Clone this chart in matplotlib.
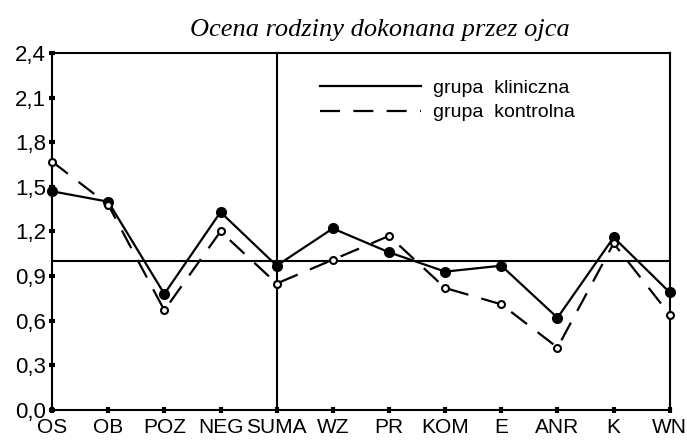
from matplotlib import pyplot as plt
import numpy as np

categories = ['OS', 'OB', 'POZ', 'NEG', 'SUMA', 'WZ', 'PR', 'KOM', 'E', 'ANR', 'K', 'WN']
klin = [1.47, 1.40, 0.78, 1.33, 0.97, 1.22, 1.06, 0.93, 0.97, 0.62, 1.16, 0.79]
kontr = [1.67, 1.38, 0.67, 1.20, 0.85, 1.01, 1.17, 0.82, 0.71, 0.42, 1.12, 0.64]
yticks = [0.0, 0.3, 0.6, 0.9, 1.2, 1.5, 1.8, 2.1, 2.4]
ylabels = ['0,0', '0,3', '0,6', '0,9', '1,2', '1,5', '1,8', '2,1', '2,4']

plt.rcParams['font.family'] = ['Liberation Sans', 'DejaVu Sans']

fig = plt.figure(figsize=(6.87, 4.41), dpi=100)
ax = fig.add_axes([0.0757, 0.0703, 0.8993, 0.8097])
x = np.arange(len(categories))

ax.axhline(1.0, color='black', lw=1.5)
ax.axvline(4, color='black', lw=1.5)

ax.plot(x, klin, '-', color='black', lw=1.6, marker='o', ms=7,
        mfc='black', mec='black', label='grupa  kliniczna', clip_on=False, zorder=3)
ax.plot(x, kontr, color='black', lw=1.6, dashes=(9, 6), marker='o', ms=5,
        mfc='white', mec='black', mew=1.5, label='grupa  kontrolna', clip_on=False, zorder=3)

ax.set_xlim(0, len(categories) - 1)
ax.set_ylim(0, 2.4)
ax.set_yticks(yticks)
ax.set_yticklabels(ylabels, fontsize=16)
ax.set_xticks(x)
ax.set_xticklabels(categories, fontsize=15)
ax.tick_params(axis='both', direction='inout', length=5, width=3)
ax.tick_params(axis='y', pad=2)
ax.tick_params(axis='x', pad=3)
for s in ax.spines.values():
    s.set_linewidth(1.5)

leg = ax.legend(loc='upper left', bbox_to_anchor=(0.405, 0.975), frameon=False,
                fontsize=14, handlelength=5.2, handletextpad=0.6,
                labelspacing=0.35, markerscale=0)
for h in leg.get_lines():
    h.set_marker('')

ax.set_title('Ocena rodziny dokonana przez ojca', fontsize=19, x=0.53,
             family='Liberation Serif', style='italic', pad=12)

plt.savefig('out.png', dpi=100)
